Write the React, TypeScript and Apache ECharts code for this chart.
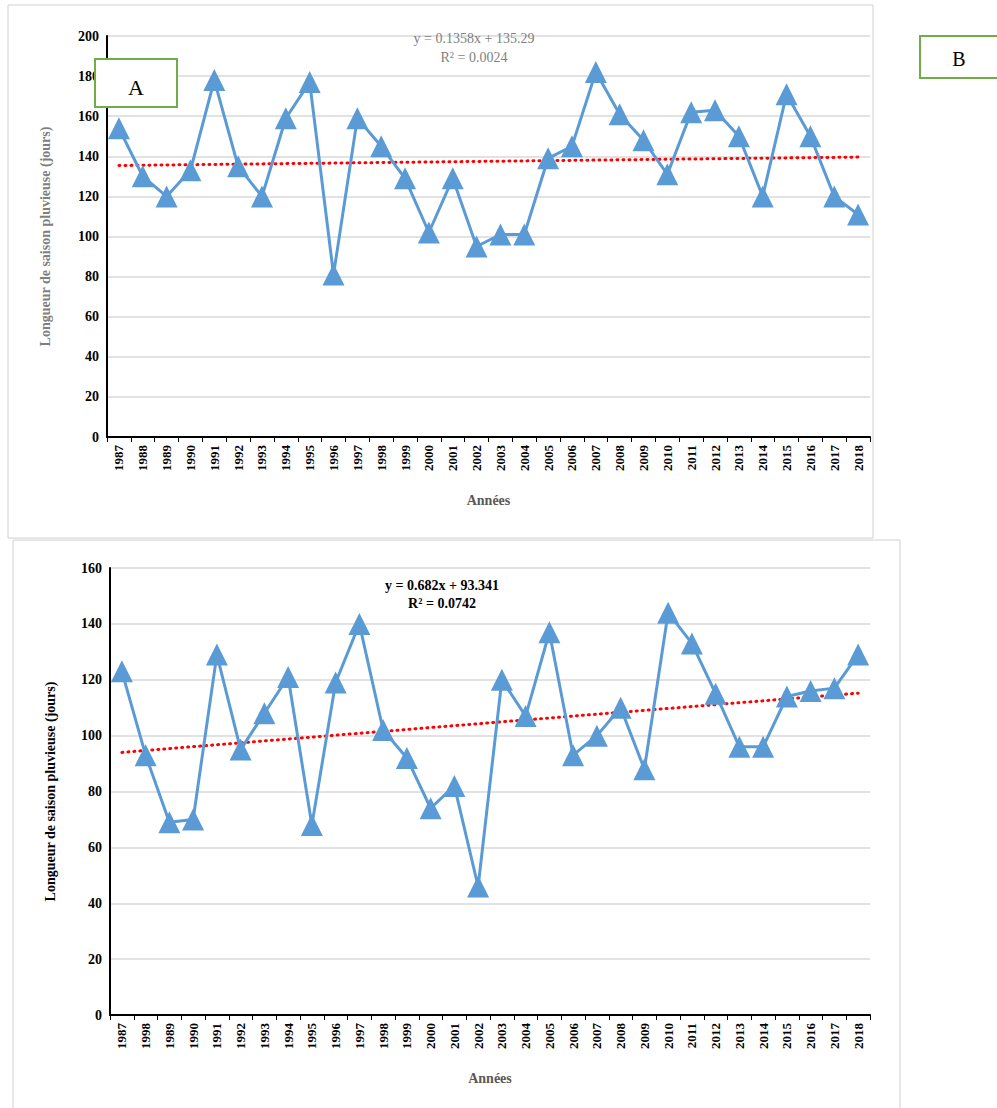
import * as echarts from "echarts";
import { useEffect, useRef } from "react";

const yearsA = ["1987","1988","1989","1990","1991","1992","1993","1994","1995","1996","1997","1998","1999","2000","2001","2002","2003","2004","2005","2006","2007","2008","2009","2010","2011","2012","2013","2014","2015","2016","2017","2018"];
const yearsB = ["1987","1998","1989","1990","1991","1992","1993","1994","1995","1996","1997","1998","1999","2000","2001","2002","2003","2004","2005","2006","2007","2008","2009","2010","2011","2012","2013","2014","2015","2016","2017","2018"];
const valuesA = [154,130,120,133,178,135,120,159,177,81,159,145,129,102,129,95,101,101,139,145,182,161,148,131,162,163,150,120,171,150,120,111];
const valuesB = [123,93,69,70,129,95,108,121,68,119,140,102,92,74,82,46,120,107,137,93,100,110,88,144,133,115,96,96,114,116,117,129];
// trendline ends (first and last year)
const trendA = [135.4, 139.6];
const trendB = [94.0, 115.2];

const font = "'Liberation Serif', 'Times New Roman', serif";

function trend(ends: number[], n: number) {
  return Array.from({ length: n }, (_, i) => (i === 0 ? ends[0] : i === n - 1 ? ends[1] : null));
}

function axes(cats: string[], max: number, gi: number, nameColor: string, gap: number) {
  return {
    x: {
      type: "category", gridIndex: gi, data: cats, boundaryGap: true,
      name: "Années", nameLocation: "middle", nameGap: 56,
      nameTextStyle: { fontFamily: font, fontWeight: "bold", fontSize: 14, color: "#595959" },
      axisLine: { lineStyle: { color: "#000", width: 2 } },
      axisTick: { show: true, interval: 0, lineStyle: { color: "#000" } },
      axisLabel: { interval: 0, rotate: 90, fontFamily: font, fontWeight: "bold", fontSize: 13, color: "#000" },
    },
    y: {
      type: "value", gridIndex: gi, min: 0, max, interval: 20,
      name: "Longueur de saison pluvieuse (jours)", nameLocation: "middle", nameGap: gap,
      nameTextStyle: { fontFamily: font, fontWeight: "bold", fontSize: 14, color: nameColor },
      axisLine: { show: true, lineStyle: { color: "#000", width: 2 } },
      axisLabel: { fontFamily: font, fontWeight: "bold", fontSize: 14, color: "#000" },
      splitLine: { lineStyle: { color: "#d9d9d9", width: 1.5 } },
    },
  };
}

export default function App() {
  const ref = useRef<HTMLDivElement>(null);
  useEffect(() => {
    const chart = echarts.init(ref.current!, null, { renderer: "svg" });
    const a = axes(yearsA, 200, 0, "#7f7f7f", 55);
    const b = axes(yearsB, 160, 1, "#000", 53);
    const line = (data: number[], xi: number) => ({
      type: "line", xAxisIndex: xi, yAxisIndex: xi, data,
      symbol: "triangle", symbolSize: 22,
      lineStyle: { color: "#5b9bd5", width: 3 }, itemStyle: { color: "#5b9bd5" },
    });
    const tl = (ends: number[], xi: number) => ({
      type: "line", xAxisIndex: xi, yAxisIndex: xi, data: trend(ends, 32), connectNulls: true,
      symbol: "none", lineStyle: { color: "#ff0000", width: 3, type: [1, 5], cap: "round" }, z: 3,
    });
    chart.setOption({
      animation: false,
      grid: [
        { left: 107, top: 36, width: 763, height: 401 },
        { left: 110, top: 568, width: 760, height: 447 },
      ],
      xAxis: [a.x, b.x],
      yAxis: [a.y, b.y],
      series: [tl(trendA, 0), line(valuesA, 0), tl(trendB, 1), line(valuesB, 1)],
      graphic: [
        { type: "rect", shape: { x: 8, y: 5, width: 865, height: 533 }, style: { fill: "none", stroke: "#d0d0d0" }, z: -1 },
        { type: "rect", shape: { x: 13, y: 540, width: 887, height: 570 }, style: { fill: "none", stroke: "#d0d0d0" }, z: -1 },
        { type: "rect", shape: { x: 95, y: 59, width: 82, height: 48 }, style: { fill: "#fff", stroke: "#70ad47", lineWidth: 2 }, z: 10 },
        { type: "text", x: 136, y: 87, style: { text: "A", font: `22px ${font}`, fill: "#000", align: "center", verticalAlign: "middle" }, z: 11 },
        { type: "rect", shape: { x: 920, y: 36, width: 80, height: 42 }, style: { fill: "#fff", stroke: "#70ad47", lineWidth: 2 }, z: 10 },
        { type: "text", x: 959, y: 59, style: { text: "B", font: `20px ${font}`, fill: "#000", align: "center", verticalAlign: "middle" }, z: 11 },
        { type: "text", x: 474, y: 48, style: { text: "y = 0.1358x + 135.29\nR² = 0.0024", font: `14px ${font}`, fill: "#7f7f7f", align: "center", verticalAlign: "middle", lineHeight: 19 }, z: 11 },
        { type: "text", x: 442, y: 594, style: { text: "y = 0.682x + 93.341\nR² = 0.0742", font: `bold 14px ${font}`, fill: "#000", align: "center", verticalAlign: "middle", lineHeight: 18 }, z: 11 },
      ],
    });
    return () => chart.dispose();
  }, []);
  return <div ref={ref} style={{ position: "fixed", left: 0, top: 0, width: 997, height: 1108, background: "#fff" }} />;
}
